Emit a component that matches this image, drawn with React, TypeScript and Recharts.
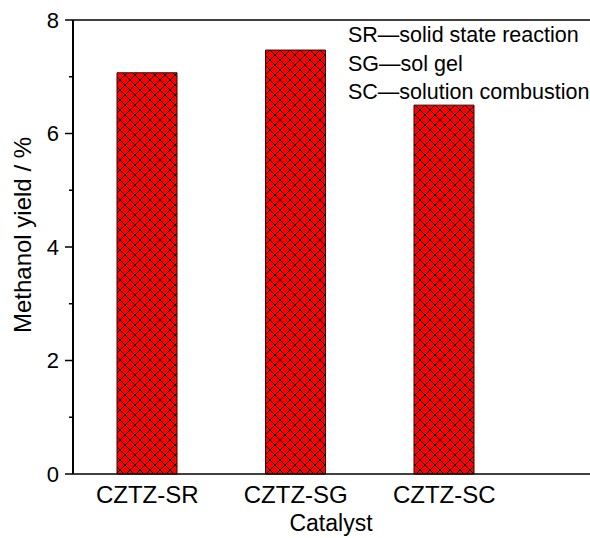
import { BarChart, Bar, XAxis, YAxis, ReferenceLine } from "recharts";

const CATEGORIES = ["CZTZ-SR", "CZTZ-SG", "CZTZ-SC", ""];
const YIELDS = [7.07, 7.47, 6.5, null];
const Y_TICKS = [0, 1, 2, 3, 4, 5, 6, 7, 8];
const LEGEND_LINES = ["SR—solid state reaction", "SG—sol gel", "SC—solution combustion"];

const FONT = "'Liberation Sans', Arial, sans-serif";

const data = CATEGORIES.map((name, i) => ({ name, value: YIELDS[i] }));

// major ticks get a label, minor ones are just short lines
function YTick(props: any) {
  const { x, y, payload } = props;
  const major = payload.value % 2 === 0;
  return (
    <g>
      <line x1={x - (major ? 8 : 4)} x2={x} y1={y} y2={y} stroke="#000" strokeWidth={1.5} />
      {major && (
        <text x={x - 14} y={y} dy="0.36em" textAnchor="end" fontSize={22} fontFamily={FONT} fill="#000">
          {payload.value}
        </text>
      )}
    </g>
  );
}

function YLabel(props: any) {
  const vb = props.viewBox;
  const cy = vb.y + vb.height / 2 - 12;
  return (
    <text
      x={22}
      y={cy}
      transform={`rotate(-90, 22, ${cy})`}
      textAnchor="middle"
      dominantBaseline="central"
      fontSize={24}
      fontFamily={FONT}
      fill="#000"
    >
      Methanol yield / %
    </text>
  );
}

export default function App() {
  return (
    <div style={{ position: "absolute", left: 0, top: 0, width: 590, height: 538, overflow: "hidden", background: "#fff" }}>
      <BarChart width={687} height={538} data={data} margin={{ top: 20, right: 20, bottom: 0, left: 0 }}>
        <defs>
          <pattern id="hatch" width={10} height={10} patternUnits="userSpaceOnUse">
            <rect width={10} height={10} fill="#ff0000" />
            <path d="M0,0 L10,10 M10,0 L0,10" stroke="#000" strokeWidth={1} />
          </pattern>
        </defs>
        <XAxis
          dataKey="name"
          height={64}
          tickLine={false}
          tickSize={0}
          tickMargin={12}
          axisLine={{ stroke: "#000", strokeWidth: 1.5 }}
          tick={{ fontSize: 24, fontFamily: FONT, fill: "#000" }}
          interval={0}
          label={{ value: "Catalyst", position: "insideBottom", offset: 7, dx: -39, fontSize: 23, fontFamily: FONT, fill: "#000" }}
        />
        <YAxis
          width={73}
          domain={[0, 8]}
          ticks={Y_TICKS}
          interval={0}
          tickLine={false}
          tickSize={0}
          tickMargin={0}
          axisLine={{ stroke: "#000", strokeWidth: 2 }}
          tick={<YTick />}
          label={<YLabel />}
        />
        <ReferenceLine y={8} stroke="#000" strokeWidth={1.5} />
        <Bar dataKey="value" barSize={60} fill="url(#hatch)" stroke="#3a0000" strokeWidth={1} isAnimationActive={false} />
      </BarChart>
      <div
        style={{
          position: "absolute",
          left: 348,
          top: 21,
          fontFamily: FONT,
          fontSize: 21.5,
          lineHeight: "28.5px",
          color: "#000",
          whiteSpace: "nowrap",
        }}
      >
        {LEGEND_LINES.map((t) => (
          <div key={t}>{t}</div>
        ))}
      </div>
    </div>
  );
}
